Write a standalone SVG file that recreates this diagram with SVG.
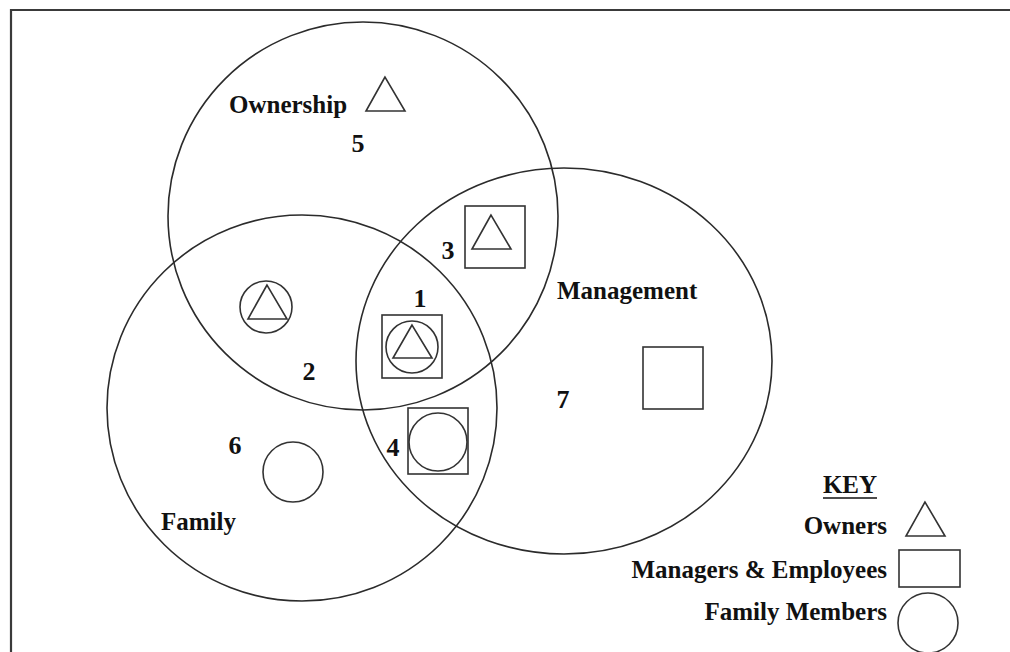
<svg xmlns="http://www.w3.org/2000/svg" width="1010" height="652" viewBox="0 0 1010 652">
  <style>
    .set { fill: none; stroke: #2b2b2b; stroke-width: 1.6; }
    .mark { fill: none; stroke: #333; stroke-width: 1.6; }
    .lbl { font-family: "Liberation Serif", "Times New Roman", serif; font-weight: bold; font-size: 25px; fill: #111; }
    .num { font-family: "Liberation Serif", "Times New Roman", serif; font-weight: bold; font-size: 26px; fill: #111; text-anchor: middle; }
    .key { text-anchor: end; }
  </style>
  <rect x="0" y="0" width="1010" height="652" fill="#fff"/>
  <!-- frame -->
  <path d="M11,652 V10 H1010" fill="none" stroke="#3a3a3a" stroke-width="2.2"/>

  <!-- the three overlapping sets -->
  <g id="ownership">
    <ellipse class="set" cx="363" cy="216" rx="195" ry="194"/>
    <text class="lbl" x="229" y="113">Ownership</text>
    <polygon class="mark" points="385,77 366,111 405,111"/>
    <text class="num" x="358" y="152">5</text>
  </g>
  <g id="family">
    <ellipse class="set" cx="302" cy="408" rx="195" ry="193"/>
    <text class="lbl" x="161" y="530">Family</text>
    <circle class="mark" cx="293" cy="472" r="30"/>
    <text class="num" x="235" y="454">6</text>
  </g>
  <g id="management">
    <ellipse class="set" cx="564" cy="361" rx="208" ry="193"/>
    <text class="lbl" x="557" y="299">Management</text>
    <rect class="mark" x="643" y="347" width="60" height="62"/>
    <text class="num" x="563" y="408">7</text>
  </g>

  <!-- overlap regions -->
  <g id="region-2">
    <circle class="mark" cx="266" cy="307" r="26"/>
    <polygon class="mark" points="267,285 248,319 287,319"/>
    <text class="num" x="309" y="380">2</text>
  </g>
  <g id="region-3">
    <rect class="mark" x="465" y="206" width="60" height="62"/>
    <polygon class="mark" points="491,215 472,249 511,249"/>
    <text class="num" x="448" y="259">3</text>
  </g>
  <g id="region-1">
    <rect class="mark" x="382" y="315" width="60" height="63"/>
    <circle class="mark" cx="412" cy="347" r="26"/>
    <polygon class="mark" points="412,325 393,358 432,358"/>
    <text class="num" x="420" y="307">1</text>
  </g>
  <g id="region-4">
    <rect class="mark" x="408" y="408" width="60" height="66"/>
    <circle class="mark" cx="438" cy="442" r="29"/>
    <text class="num" x="393" y="456">4</text>
  </g>

  <!-- legend -->
  <g id="key">
    <text class="lbl" x="850" y="493" text-anchor="middle">KEY</text>
    <line x1="823" y1="498" x2="877" y2="498" stroke="#111" stroke-width="1.6"/>
    <text class="lbl key" x="887" y="534">Owners</text>
    <polygon class="mark" points="925,502 906,536 945,536"/>
    <text class="lbl key" x="887" y="578">Managers &amp; Employees</text>
    <rect class="mark" x="899" y="550" width="61" height="37"/>
    <text class="lbl key" x="887" y="620">Family Members</text>
    <circle class="mark" cx="928" cy="623" r="30"/>
  </g>
</svg>
